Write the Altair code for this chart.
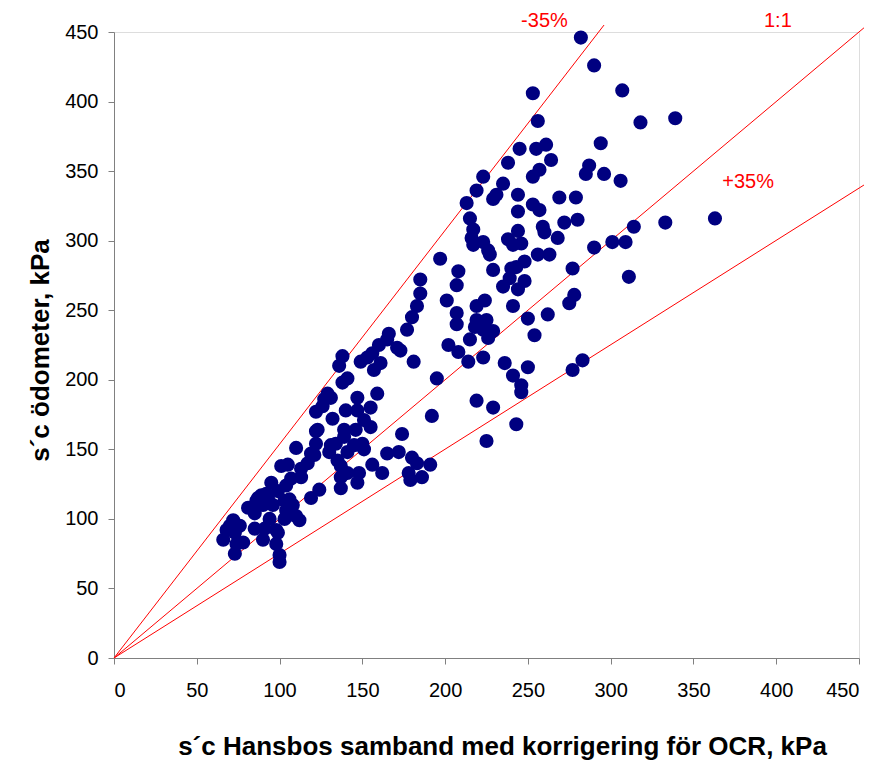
import altair as alt
import pandas as pd

# Scatter points: x = s'c Hansbos (kPa), y = s'c ödometer (kPa)
x_vals = [
    72, 68, 66, 73, 74, 73, 81, 85, 90, 87, 92, 95, 96, 98, 98, 100, 100, 104, 106, 108,
    112, 104, 107, 105, 110, 113, 119, 124, 117, 119, 122, 122, 131, 135, 137, 137, 147, 139,
    70, 76, 78, 89, 93, 90, 86, 94, 91, 99, 85, 103, 110, 101, 99, 103, 108,
    138, 136, 149, 153, 156, 160, 165, 171, 166, 177, 181, 195, 159, 157, 161, 141, 138, 129,
    127, 126, 131, 147, 147, 155, 140, 122, 123, 132, 139, 146, 151, 155, 145, 150, 134, 113,
    121, 130, 137, 141, 151, 141, 148, 156, 162, 174, 165, 172, 180, 183, 191, 178, 179, 186, 192,
    201, 183, 180, 173, 207, 207, 219, 219, 218, 223, 229, 226, 215, 202, 208, 214, 223, 241,
    250, 262, 254, 236, 241, 246, 246, 250, 219, 229, 243, 225,
    238, 223, 219, 235, 231, 229, 213, 257, 253, 264, 244, 244, 253, 257, 269, 279, 272, 280,
    259, 268, 215, 217, 216, 217, 223, 226, 227, 244, 238, 241, 246, 256, 263, 248, 243, 240,
    239, 235, 244, 248, 197, 229, 208, 207, 185, 185, 277, 275, 278, 224, 225, 260,
    287, 285, 296, 306, 314, 333, 363, 309, 301, 290, 311, 283, 277,
    282, 290, 253, 307, 256, 318, 339, 294, 245, 255, 261,
]
y_vals = [
    99, 92, 85, 90, 82, 75, 108, 93, 85, 115, 118, 126, 110, 92, 82, 74, 69, 106, 114, 103,
    99, 124, 129, 139, 151, 130, 115, 121, 140, 147, 154, 163, 153, 142, 130, 122, 126, 159,
    95, 95, 83, 117, 115, 110, 113, 100, 93, 90, 104, 100, 102, 138, 120, 113, 110,
    217, 210, 213, 216, 219, 225, 229, 223, 233, 236, 213, 201, 190, 207, 212, 201, 198, 190,
    186, 181, 187, 187, 178, 180, 178, 177, 164, 172, 164, 164, 171, 166, 153, 154, 154, 136,
    146, 148, 138, 148, 150, 133, 133, 139, 133, 161, 147, 148, 144, 140, 139, 133, 128, 130, 174,
    257, 253, 245, 221, 248, 240, 253, 243, 238, 236, 235, 230, 229, 225, 220, 213, 216, 253,
    244, 247, 232, 212, 203, 196, 191, 209, 185, 180, 168, 156,
    356, 346, 336, 341, 333, 330, 327, 351, 346, 358, 333, 321, 326, 322, 331, 331, 313, 315,
    310, 302, 316, 308, 302, 297, 299, 293, 290, 307, 301, 297, 298, 290, 290, 285, 281, 280,
    273, 267, 265, 271, 287, 279, 278, 268, 272, 262, 280, 255, 261, 257, 243, 306,
    354, 348, 348, 343, 310, 313, 316, 299, 299, 295, 274, 214, 207,
    446, 426, 406, 408, 386, 385, 388, 370, 366, 366, 369,
]

# Reference lines from origin (end points)
line_names = ["-35%", "1:1", "+35%"]
line_x_end = [296, 453, 453]
line_y_end = [455, 453, 340]

# Line labels
label_text = ["-35%", "1:1", "+35%"]
label_x = [260, 401, 383]
label_y = [458, 458, 342]

ticks = [0, 50, 100, 150, 200, 250, 300, 350, 400, 450]

pts = pd.DataFrame({"x": x_vals, "y": y_vals})
rows = []
for n, xe, ye in zip(line_names, line_x_end, line_y_end):
    rows.append({"name": n, "x": 0, "y": 0})
    rows.append({"name": n, "x": xe, "y": ye})
lines_df = pd.DataFrame(rows)
labels_df = pd.DataFrame({"t": label_text, "x": label_x, "y": label_y})

FONT = "Liberation Sans"

xscale = alt.Scale(domain=[0, 450], nice=False, zero=True)
yscale = alt.Scale(domain=[0, 450], nice=False, zero=True)

xaxis = alt.Axis(
    values=ticks, grid=False, domainColor="#808080", tickColor="#808080", tickSize=6,
    labelFont=FONT, labelFontSize=20, labelColor="black", labelPadding=16,
    title="s´c Hansbos samband med korrigering för OCR, kPa",
    titleFont=FONT, titleFontSize=26, titleFontWeight="bold", titleColor="black",
    titleX=388, titleY=96, titleBaseline="alphabetic", titleAlign="center",
)
yaxis = alt.Axis(
    values=ticks, grid=False, domainColor="#808080", tickColor="#808080", tickSize=6,
    labelFont=FONT, labelFontSize=20, labelColor="black", labelPadding=10,
    title="s´c ödometer, kPa",
    titleFont=FONT, titleFontSize=26, titleFontWeight="bold", titleColor="black",
    titleX=-66, titleY=318, titleAngle=-90, titleBaseline="alphabetic", titleAlign="center",
)

lines = alt.Chart(lines_df).mark_line(color="red", strokeWidth=1, clip=False).encode(
    x=alt.X("x:Q", scale=xscale, axis=xaxis),
    y=alt.Y("y:Q", scale=yscale, axis=yaxis),
    detail="name:N",
)

points = alt.Chart(pts).mark_circle(size=200, color="#000080", opacity=1).encode(
    x=alt.X("x:Q", scale=xscale),
    y=alt.Y("y:Q", scale=yscale),
)

texts = alt.Chart(labels_df).mark_text(
    color="red", font=FONT, fontSize=20, clip=False, align="center", baseline="middle"
).encode(
    x=alt.X("x:Q", scale=xscale),
    y=alt.Y("y:Q", scale=yscale),
    text="t:N",
)

chart = alt.layer(lines, points, texts).properties(
    width=745, height=626,
    autosize=alt.AutoSizeParams(type="none"),
    padding={"left": 114, "top": 32, "right": 23, "bottom": 104},
).configure_view(stroke=None).configure(background="white")

chart.save("out.html", embed_options={"renderer": "svg", "actions": False})
